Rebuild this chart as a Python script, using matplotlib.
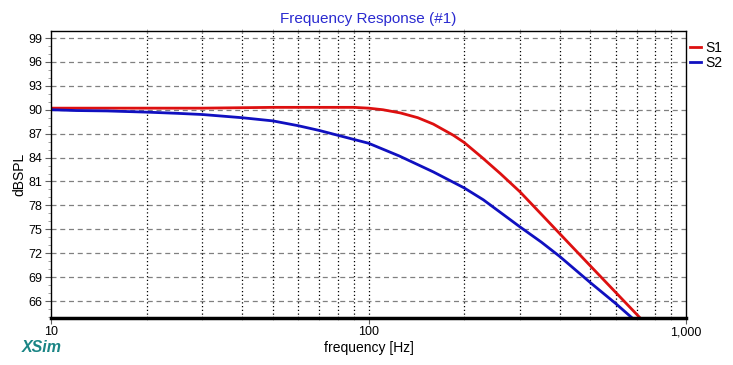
import matplotlib
matplotlib.use("Agg")
import matplotlib.pyplot as plt
from matplotlib.ticker import FixedLocator, NullFormatter

plt.rcParams['font.family'] = ['Liberation Sans', 'DejaVu Sans']

# S1 (red)
s1_freq = [10, 20, 30, 50, 70, 90, 100, 111, 126, 143, 160, 172, 185, 200, 228, 260, 300, 350, 424, 500, 600, 720]
s1_db = [90.2, 90.2, 90.2, 90.3, 90.3, 90.3, 90.2, 90.0, 89.6, 89.0, 88.2, 87.5, 86.8, 85.9, 84.0, 82.0, 79.7, 76.9, 73.4, 70.4, 67.1, 63.8]

# S2 (blue)
s2_freq = [10, 12, 15, 20, 25, 30, 40, 50, 60, 70, 80, 100, 125, 160, 200, 230, 300, 350, 400, 500, 600, 680]
s2_db = [90.0, 89.9, 89.85, 89.7, 89.55, 89.4, 89.0, 88.6, 88.0, 87.4, 86.8, 85.8, 84.2, 82.2, 80.2, 78.7, 75.3, 73.4, 71.6, 68.3, 65.7, 63.8]

y_ticks = [66, 69, 72, 75, 78, 81, 84, 87, 90, 93, 96, 99]
x_ticks = [10, 100, 1000]
x_labels = ['10', '100', '1,000']
x_minor = [20, 30, 40, 50, 60, 70, 80, 90, 200, 300, 400, 500, 600, 700, 800, 900]

fig = plt.figure(figsize=(7.33, 3.65), dpi=100)
ax = fig.add_axes([51 / 733, 1 - 318 / 365, 635 / 733, 287 / 365])

ax.plot(s1_freq, s1_db, color='#dd1010', lw=2, label='S1')
ax.plot(s2_freq, s2_db, color='#1010c0', lw=2, label='S2')

ax.set_xscale('log')
ax.set_xlim(10, 1000)
ax.set_ylim(63.87, 99.88)

ax.xaxis.set_major_locator(FixedLocator(x_ticks))
ax.set_xticklabels(x_labels)
ax.xaxis.set_minor_locator(FixedLocator(x_minor))
ax.xaxis.set_minor_formatter(NullFormatter())
ax.set_yticks(y_ticks)
ax.yaxis.set_minor_locator(FixedLocator([v for v in range(64, 100) if v not in y_ticks]))

# grid: dashed gray horizontals, dotted black verticals
for v in y_ticks:
    ax.axhline(v, color='#808080', lw=0.9, ls=(0, (4, 3)), zorder=0)
for v in x_minor + [100]:
    ax.axvline(v, color='black', lw=0.9, ls=(0, (1, 2)), zorder=0)

ax.tick_params(axis='both', which='major', labelsize=9, length=4, width=0.8, color='#606060', pad=2)
ax.tick_params(axis='y', which='minor', length=2, width=0.6, color='#909090')
ax.tick_params(axis='x', which='minor', length=3, width=0.6, color='#a0a0a0', top=True, direction='inout')

for s in ['left', 'top', 'right']:
    ax.spines[s].set_linewidth(1)
ax.spines['bottom'].set_linewidth(2.5)

ax.set_title('Frequency Response (#1)', color='#2a2ad0', fontsize=11, pad=6)
ax.set_xlabel('frequency [Hz]', fontsize=10, labelpad=2)
ax.set_ylabel('dBSPL', fontsize=10, labelpad=2)

ax.legend(loc='upper left', bbox_to_anchor=(0.997, 0.985), frameon=False,
          handlelength=0.8, handletextpad=0.3, fontsize=10, labelspacing=0.05,
          borderaxespad=0)

fig.text(22 / 733, 1 - 348 / 365, 'XSim', color='#1a8585', fontsize=11.5,
         fontweight='bold', style='italic', va='center', ha='left')

fig.savefig('out.png', dpi=100)
